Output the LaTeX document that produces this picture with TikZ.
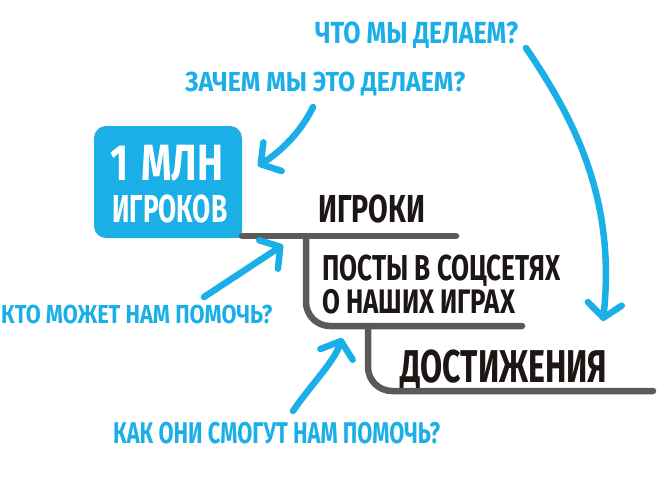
\documentclass[tikz,border=0pt]{standalone}
\usepackage{fontspec}
\setmainfont{Fira Sans}
\usetikzlibrary{arrows.meta}
\definecolor{qblue}{RGB}{27,175,232}
\definecolor{lgray}{RGB}{90,90,90}
\definecolor{ink}{RGB}{28,22,20}
\newcommand{\fitw}[3]{\resizebox{#1pt}{\height}{\fontsize{#2}{#2}\selectfont\bfseries #3}}
\begin{document}
\begin{tikzpicture}[x=1pt,y=-1pt,
  txt/.style={inner sep=0pt, anchor=base west},
  qtxt/.style={txt, text=qblue},
  btxt/.style={txt, text=ink},
  branch/.style={draw=lgray, line width=6.5pt, line cap=round, line join=round, rounded corners=24pt},
  qarrow/.style={draw=qblue, line width=6.5pt, line cap=round,
    -{Straight Barb[length=14pt,width=34pt,line cap=round,line join=round]}},
  box/.style={fill=qblue, rounded corners=12pt, minimum width=148pt, minimum height=112pt, inner sep=0pt}]
\useasboundingbox (0,0) rectangle (670,480);

% blue box with text
\node[box] (mln) at (168,182) {};
\fill[qblue] (mln.south east) rectangle ++(-14,-14);
\node[txt, text=white] (mln1) at (110,180) {\fitw{113}{51}{1\,\,МЛН}};
\node[txt, text=white] (mln2) at (112,222) {\fitw{115}{39}{ИГРОКОВ}};

% black labels
\node[btxt] (igroki) at (318,222) {\fitw{107}{39}{ИГРОКИ}};
\node[btxt] (posty1) at (322,280) {\fitw{238}{36}{ПОСТЫ В СОЦСЕТЯХ}};
\node[btxt] (posty2) at (322,313) {\fitw{193}{34}{О НАШИХ ИГРАХ}};
\node[btxt] (dost) at (400,382) {\fitw{207}{46}{ДОСТИЖЕНИЯ}};

% blue questions
\node[qtxt] (q1) at (315,43) {\fitw{203}{30.5}{ЧТО МЫ ДЕЛАЕМ?}};
\node[qtxt] (q2) at (185,91) {\fitw{280}{27.5}{ЗАЧЕМ МЫ ЭТО ДЕЛАЕМ?}};
\node[qtxt] (q3) at (1,323) {\fitw{271}{26}{КТО МОЖЕТ НАМ ПОМОЧЬ?}};
\node[qtxt] (q4) at (113,443) {\fitw{327}{30}{КАК ОНИ СМОГУТ НАМ ПОМОЧЬ?}};

% gray structure lines
\coordinate (l1s) at (242,236);
\coordinate (l1e) at (456,236);
\coordinate (j1) at (306,236);
\coordinate (l2e) at (522,326);
\coordinate (j2) at (368,326);
\coordinate (l3e) at (653,391);
\draw[branch] (l1s) -- (l1e);
\draw[branch] (j1) -- (306,326) -- (l2e);
\draw[branch] (j2) -- (368,391) -- (l3e);

% blue arrows
\coordinate (a1s) at (526,48);
\coordinate (a1e) at (603,321);
\coordinate (a2s) at (313,107);
\coordinate (a2e) at (258,166);
\coordinate (a3s) at (204,297);
\coordinate (a3e) at (283,245);
\coordinate (a4s) at (293,411);
\coordinate (a4e) at (342,338);
\draw[qarrow] (a1s) .. controls (575,120) and (616,200) .. (a1e);
\draw[qarrow] (a2s) .. controls (302,130) and (283,150) .. (a2e);
\draw[qarrow] (a3s) -- (a3e);
\draw[qarrow] (a4s) .. controls (313,382) and (334,362) .. (a4e);
\end{tikzpicture}
\end{document}
